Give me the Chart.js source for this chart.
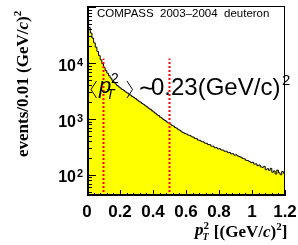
<!DOCTYPE html>
<html>
<head>
<meta charset="utf-8">
<script src="https://cdn.jsdelivr.net/npm/chart.js@4.4.1/dist/chart.umd.min.js"></script>
<style>
  html, body { margin: 0; padding: 0; background: #fff; }
  #plot { display: block; }
</style>
</head>
<body>
<canvas id="plot" width="298" height="245"></canvas>
<script>
// histogram of pT^2, bins of 0.01 (GeV/c)^2 from 0 to 1.2
const binWidth = 0.01;
const counts = [
  56000, 43000, 34500, 28000, 23000, 19300, 16200, 13600, 11400, 9700,
  8300, 7350, 6600, 5950, 5400, 4950, 4580, 4250, 3960, 3740,
  3560, 3370, 3220, 3050, 2930, 2780, 2670, 2530, 2430, 2310,
  2200, 2085, 2000, 1895, 1815, 1720, 1650, 1555, 1490, 1405,
  1335, 1270, 1195, 1150, 1080, 1035, 975, 940, 885, 852,
  815, 772, 748, 705, 684, 645, 626, 590, 570, 548,
  538, 515, 508, 482, 474, 450, 444, 420, 415, 396,
  390, 372, 368, 350, 348, 328, 326, 306, 308, 292,
  294, 280, 278, 265, 266, 250, 253, 238, 240, 226,
  229, 218, 212, 207, 196, 194, 183, 181, 174, 166,
  168, 156, 158, 146, 151, 139, 137, 142, 124, 129,
  121, 131, 112, 118, 104, 122, 109, 101, 115, 107
];
const xTicks = [0, 0.2, 0.4, 0.6, 0.8, 1, 1.2];
const xTickLabels = ['0', '0.2', '0.4', '0.6', '0.8', '1', '1.2'];
const yDecades = [2, 3, 4];
const cutLines = [0.1, 0.5];
const cutTop = 12000;
const xMin = 0, xMax = 1.2;
const yMin = 42, yMax = 105000;

const histPoints = counts.map((v, i) => ({ x: i * binWidth, y: v }));
histPoints.push({ x: counts.length * binWidth, y: counts[counts.length - 1] });

function drawPieces(ctx, x, pieces) {
  pieces.forEach(p => {
    ctx.font = p.font;
    ctx.fillText(p.t, x + (p.dx || 0), p.y);
    if (!p.stay) x += (p.dx || 0) + ctx.measureText(p.t).width;
  });
  return x;
}

const rootDecor = {
  id: 'rootDecor',
  afterDatasetsDraw(chart) {
    const ctx = chart.ctx;
    const a = chart.chartArea;
    const xs = chart.scales.x, ys = chart.scales.y;
    ctx.save();
    ctx.fillStyle = '#000';
    ctx.strokeStyle = '#000';

    // frame
    ctx.lineWidth = 1;
    ctx.strokeRect(a.left + 0.5, a.top + 0.5, a.right - a.left - 1, a.bottom - a.top - 1);
    ctx.lineWidth = 2;
    ctx.beginPath();
    ctx.moveTo(a.left + 1, a.top);
    ctx.lineTo(a.left + 1, a.bottom - 1);
    ctx.lineTo(a.right, a.bottom - 1);
    ctx.stroke();

    // y ticks (inside)
    ctx.lineWidth = 1;
    ctx.beginPath();
    for (let d = 1; d <= 5; d++) {
      for (let k = 1; k <= 9; k++) {
        const v = k * Math.pow(10, d);
        if (v < yMin || v > yMax) continue;
        const py = Math.round(ys.getPixelForValue(v)) + 0.5;
        const len = k === 1 ? 9 : 5;
        ctx.moveTo(a.left, py);
        ctx.lineTo(a.left + len, py);
      }
    }
    // x ticks (inside)
    for (let i = 0; i <= 30; i++) {
      const v = i * 0.04;
      const px = Math.round(xs.getPixelForValue(v)) + 0.5;
      const len = i % 5 === 0 ? 6 : 3;
      ctx.moveTo(px, a.bottom);
      ctx.lineTo(px, a.bottom - len);
    }
    ctx.stroke();

    // y labels 10^n
    ctx.textBaseline = 'alphabetic';
    yDecades.forEach(d => {
      const py = ys.getPixelForValue(Math.pow(10, d));
      ctx.textAlign = 'right';
      ctx.font = 'bold 16px "Liberation Sans", Arial, sans-serif';
      ctx.fillText('10', 76, py + 7.5);
      ctx.textAlign = 'left';
      ctx.font = 'bold 11px "Liberation Sans", Arial, sans-serif';
      ctx.fillText(String(d), 77, py + 2.5);
    });

    // x labels
    ctx.textAlign = 'center';
    ctx.font = 'bold 17px "Liberation Sans", Arial, sans-serif';
    xTicks.forEach((v, i) => {
      ctx.fillText(xTickLabels[i], xs.getPixelForValue(v), 217);
    });

    // x title
    ctx.textAlign = 'left';
    const serif = '"Liberation Serif", "Times New Roman", serif';
    let x = drawPieces(ctx, 195, [
      { t: 'p', font: 'bold italic 17px ' + serif, y: 235 },
      { t: '2', font: 'bold 11px ' + serif, y: 229, stay: true },
      { t: 'T', font: 'bold italic 10px ' + serif, y: 240, dx: -1 },
      { t: ' [(GeV/', font: 'bold 17px ' + serif, y: 237, dx: 1 },
      { t: 'c', font: 'bold italic 17px ' + serif, y: 237 },
      { t: ')', font: 'bold 17px ' + serif, y: 237 },
      { t: '2', font: 'bold 11px ' + serif, y: 230 },
      { t: ']', font: 'bold 17px ' + serif, y: 237 }
    ]);

    // y title (rotated)
    ctx.save();
    ctx.translate(28, 157);
    ctx.rotate(-Math.PI / 2);
    drawPieces(ctx, 0, [
      { t: 'events/0.01 (GeV/', font: 'bold 17px ' + serif, y: 0 },
      { t: 'c', font: 'bold italic 17px ' + serif, y: 0 },
      { t: ')', font: 'bold 17px ' + serif, y: 0 },
      { t: '2', font: 'bold 11px ' + serif, y: -7 }
    ]);
    ctx.restore();

    // experiment label
    ctx.font = '11.5px "Liberation Sans", Arial, sans-serif';
    ctx.fillText('COMPASS  2003\u20132004  deuteron', 97, 17);

    // mean pT^2 annotation
    const sans = '"Liberation Sans", Arial, sans-serif';
    ctx.lineWidth = 1;
    ctx.beginPath();
    ctx.moveTo(96.5, 81); ctx.lineTo(91, 89.5); ctx.lineTo(96.5, 98);
    ctx.moveTo(127, 81); ctx.lineTo(132.5, 89.5); ctx.lineTo(127, 98);
    ctx.stroke();
    ctx.font = 'italic 22px ' + sans;
    ctx.fillText('p', 99, 93);
    ctx.font = '14px ' + sans;
    ctx.fillText('2', 111, 83);
    ctx.font = 'italic 14px ' + sans;
    ctx.fillText('T', 106, 99);
    ctx.font = '22px "DejaVu Sans", sans-serif';
    ctx.fillText('\u223C', 138, 95);
    ctx.font = '24px ' + sans;
    ctx.fillText('0.23(GeV/c)', 151, 95);
    ctx.font = '15px ' + sans;
    ctx.fillText('2', 282, 85);

    ctx.restore();
  }
};

const cutDatasets = cutLines.map(c => ({
  data: [{ x: c, y: yMin }, { x: c, y: cutTop }],
  borderColor: '#ff0000',
  borderWidth: 2,
  borderDash: [2, 2],
  fill: false,
  pointRadius: 0
}));

new Chart(document.getElementById('plot').getContext('2d'), {
  type: 'line',
  data: {
    datasets: [
      ...cutDatasets,
      {
        data: histPoints,
        stepped: true,
        borderColor: '#000000',
        borderWidth: 1,
        backgroundColor: '#ffff00',
        fill: 'start',
        pointRadius: 0
      }
    ]
  },
  options: {
    responsive: false,
    animation: false,
    devicePixelRatio: 1,
    layout: { padding: { left: 87, right: 13, top: 6, bottom: 49 } },
    plugins: { legend: { display: false }, tooltip: { enabled: false } },
    scales: {
      x: { type: 'linear', min: xMin, max: xMax, display: false },
      y: { type: 'logarithmic', min: yMin, max: yMax, display: false }
    }
  },
  plugins: [rootDecor]
});
</script>
</body>
</html>
